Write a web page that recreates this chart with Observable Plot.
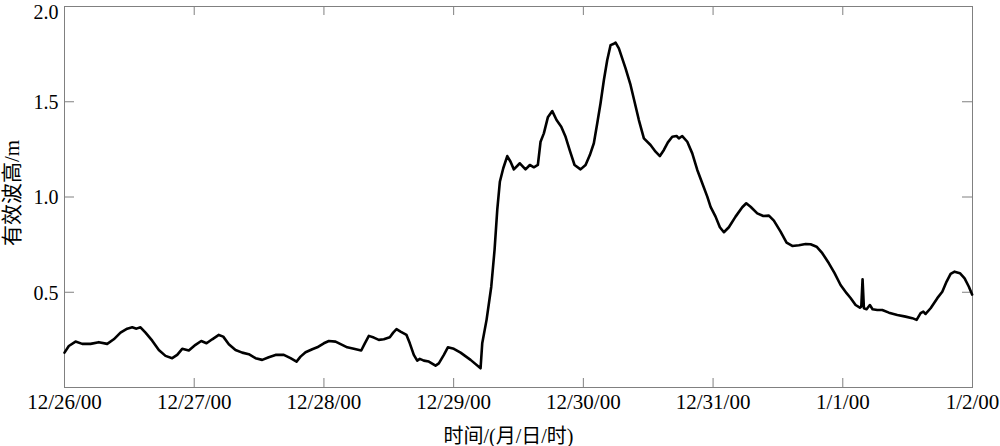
<!DOCTYPE html>
<html>
<head>
<meta charset="utf-8">
<script src="https://cdn.jsdelivr.net/npm/d3@7"></script>
<script src="https://cdn.jsdelivr.net/npm/@observablehq/plot@0.6"></script>
<style>
  html, body { margin: 0; padding: 0; background: white; }
</style>
</head>
<body>
<div id="chart"></div>
<script>
// hours since 12/26 00:00
const hours = [0,0.80,2.04,3.28,4.81,6.35,7.90,9.12,10.36,11.60,12.53,13.32,14.06,14.99,16.23,17.45,18.69,19.93,20.85,21.78,23.00,
24.24,25.30,26.28,27.33,28.55,29.37,30.40,31.64,32.88,34.10,35.34,36.58,37.80,39.04,40.58,41.82,42.93,43.67,44.60,45.84,46.76,47.98,
48.91,50.15,52.31,53.53,54.90,55.57,56.31,57.23,58.16,59.08,60.19,60.82,61.43,62.17,63.28,63.89,64.63,65.26,65.74,66.49,67.41,68.65,69.26,70.19,70.93,
72.04,73.28,75.13,76.98,77.29,78.09,78.96,79.57,80.07,80.55,81.18,81.92,82.53,83.14,84.25,85.30,86.10,86.84,87.58,88.08,88.69,89.43,90.25,91.04,91.91,92.71,93.50,94.37,95.48,
96.41,97.20,97.94,98.57,99.18,99.80,100.42,101.03,101.53,101.96,102.57,103.81,104.73,105.47,106.27,107.20,108.43,109.36,110.16,110.90,111.64,112.45,113.25,113.67,114.30,115.23,116.15,117.08,118.00,118.93,119.54,
120.46,121.26,122.00,122.92,124.16,125.40,126.14,126.94,128.18,129.29,130.33,131.25,132.49,133.60,134.66,135.88,137.12,138.04,139.15,140.21,141.43,142.48,143.59,
144.70,145.44,146.37,147.16,147.42,147.66,147.91,148.40,149.01,149.51,150.38,151.31,152.53,154.09,155.62,156.86,157.66,158.40,158.90,159.32,160.25,161.49,162.41,163.21,163.95,164.69,165.67,166.54,167.33,167.93];

// significant wave height (m)
const swh = [0.183,0.218,0.241,0.229,0.229,0.238,0.229,0.253,0.288,0.309,0.316,0.309,0.316,0.288,0.246,0.197,0.166,0.154,0.171,0.203,0.194,
0.224,0.244,0.232,0.253,0.276,0.267,0.227,0.197,0.183,0.175,0.154,0.145,0.159,0.171,0.171,0.154,0.136,0.162,0.185,0.201,0.211,0.232,
0.244,0.241,0.211,0.203,0.194,0.232,0.271,0.262,0.250,0.253,0.264,0.288,0.306,0.293,0.276,0.232,0.171,0.141,0.150,0.141,0.136,0.115,0.127,0.171,0.211,
0.203,0.183,0.145,0.101,0.232,0.355,0.529,0.722,0.932,1.080,1.151,1.215,1.185,1.145,1.177,1.145,1.168,1.156,1.168,1.290,1.334,1.418,1.451,1.404,1.369,1.316,1.243,1.168,1.145,
1.168,1.220,1.282,1.387,1.492,1.614,1.719,1.797,1.803,1.810,1.780,1.675,1.588,1.500,1.404,1.308,1.273,1.238,1.215,1.247,1.287,1.316,1.320,1.308,1.320,1.290,1.229,1.142,1.072,1.002,0.948,
0.897,0.841,0.815,0.841,0.897,0.946,0.967,0.949,0.914,0.900,0.902,0.876,0.818,0.760,0.743,0.747,0.753,0.752,0.739,0.705,0.652,0.600,0.538,
0.495,0.470,0.433,0.419,0.424,0.568,0.416,0.411,0.433,0.411,0.407,0.407,0.393,0.381,0.372,0.364,0.355,0.390,0.398,0.386,0.416,0.469,0.503,0.556,0.596,0.608,0.600,0.573,0.529,0.488];

const xTickHours = [0,24,48,72,96,120,144,168];
const xTickLabels = ["12/26/00","12/27/00","12/28/00","12/29/00","12/30/00","12/31/00","1/1/00","1/2/00"];
const yTickValues = [0.5,1.0,1.5,2.0];
const yTickLabels = ["0.5","1.0","1.5","2.0"];
const xTitle = "时间/(月/日/时)";
const yTitle = "有效波高/m";

const data = hours.map((h, i) => ({h, v: swh[i]}));
const gray = "#808080";
const yFmt = d => yTickLabels[yTickValues.indexOf(d)];
const yMax = yTickValues[yTickValues.length - 1];

const chart = Plot.plot({
  width: 1000,
  height: 446,
  marginLeft: 64,
  marginRight: 28,
  marginTop: 6,
  marginBottom: 59,
  style: {fontFamily: "'Liberation Serif', 'Noto Sans CJK SC', serif", fontSize: "21px", background: "white", color: "black", overflow: "visible"},
  x: {domain: [0, 168]},
  y: {domain: [0, 2]},
  marks: [
    Plot.frame({stroke: gray}),
    Plot.tickX(xTickHours, {x: d => d, stroke: gray, insetTop: 372}),
    Plot.tickX(xTickHours, {x: d => d, stroke: gray, insetBottom: 372}),
    Plot.tickY(yTickValues, {y: d => d, stroke: gray, insetRight: 898}),
    Plot.tickY(yTickValues, {y: d => d, stroke: gray, insetLeft: 898}),
    Plot.line(data, {x: "h", y: "v", stroke: "black", strokeWidth: 2.6}),
    Plot.axisX({ticks: xTickHours, tickFormat: d => xTickLabels[xTickHours.indexOf(d)], tickSize: 0, tickPadding: 7, label: null, fill: "black", fontSize: 21}),
    Plot.axisY({ticks: yTickValues.filter(d => d !== yMax), tickFormat: yFmt, tickSize: 0, tickPadding: 6, label: null, fill: "black", fontSize: 20, dy: 1}),
    Plot.axisY({ticks: [yMax], tickFormat: yFmt, tickSize: 0, tickPadding: 6, label: null, fill: "black", fontSize: 20, dy: 6}),
    Plot.text([xTitle], {text: d => d, frameAnchor: "bottom", lineAnchor: "middle", textAnchor: "middle", dy: 49, dx: -10, fontSize: 20, fill: "black"}),
    Plot.text([yTitle], {text: d => d, frameAnchor: "left", lineAnchor: "middle", textAnchor: "middle", rotate: -90, dx: -52, dy: -4, fontSize: 21, fill: "black"})
  ]
});
document.getElementById("chart").appendChild(chart);
</script>
</body>
</html>
